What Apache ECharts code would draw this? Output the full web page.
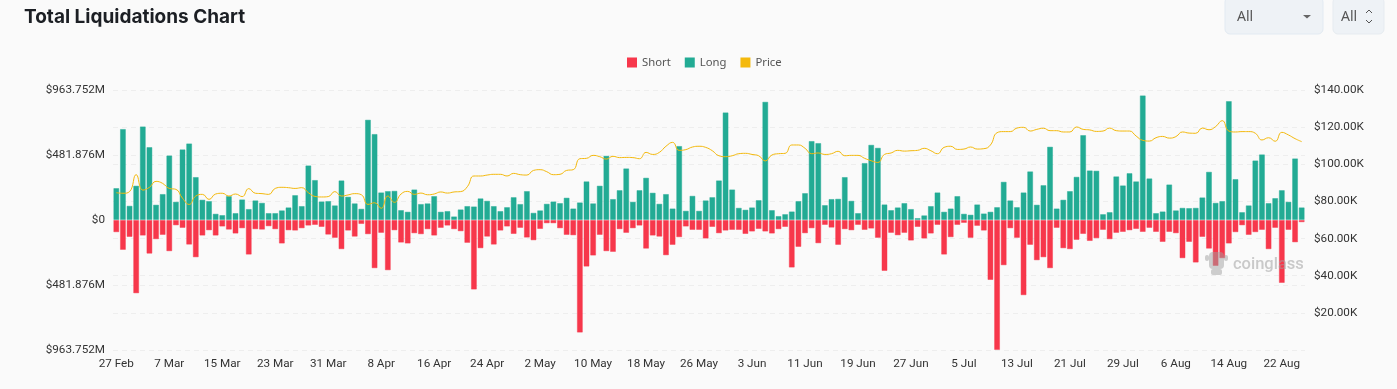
<!DOCTYPE html>
<html><head><meta charset="utf-8">
<style>html,body{margin:0;padding:0;background:#fafafa}#c{width:1397px;height:389px}</style>
<script src="https://cdn.jsdelivr.net/npm/echarts@6/dist/echarts.min.js"></script>
</head><body><div id="c"></div>
<script>
const categories = ["27 Feb","28 Feb","1 Mar","2 Mar","3 Mar","4 Mar","5 Mar","6 Mar","7 Mar","8 Mar","9 Mar","10 Mar","11 Mar","12 Mar","13 Mar","14 Mar","15 Mar","16 Mar","17 Mar","18 Mar","19 Mar","20 Mar","21 Mar","22 Mar","23 Mar","24 Mar","25 Mar","26 Mar","27 Mar","28 Mar","29 Mar","30 Mar","31 Mar","1 Apr","2 Apr","3 Apr","4 Apr","5 Apr","6 Apr","7 Apr","8 Apr","9 Apr","10 Apr","11 Apr","12 Apr","13 Apr","14 Apr","15 Apr","16 Apr","17 Apr","18 Apr","19 Apr","20 Apr","21 Apr","22 Apr","23 Apr","24 Apr","25 Apr","26 Apr","27 Apr","28 Apr","29 Apr","30 Apr","1 May","2 May","3 May","4 May","5 May","6 May","7 May","8 May","9 May","10 May","11 May","12 May","13 May","14 May","15 May","16 May","17 May","18 May","19 May","20 May","21 May","22 May","23 May","24 May","25 May","26 May","27 May","28 May","29 May","30 May","31 May","1 Jun","2 Jun","3 Jun","4 Jun","5 Jun","6 Jun","7 Jun","8 Jun","9 Jun","10 Jun","11 Jun","12 Jun","13 Jun","14 Jun","15 Jun","16 Jun","17 Jun","18 Jun","19 Jun","20 Jun","21 Jun","22 Jun","23 Jun","24 Jun","25 Jun","26 Jun","27 Jun","28 Jun","29 Jun","30 Jun","1 Jul","2 Jul","3 Jul","4 Jul","5 Jul","6 Jul","7 Jul","8 Jul","9 Jul","10 Jul","11 Jul","12 Jul","13 Jul","14 Jul","15 Jul","16 Jul","17 Jul","18 Jul","19 Jul","20 Jul","21 Jul","22 Jul","23 Jul","24 Jul","25 Jul","26 Jul","27 Jul","28 Jul","29 Jul","30 Jul","31 Jul","1 Aug","2 Aug","3 Aug","4 Aug","5 Aug","6 Aug","7 Aug","8 Aug","9 Aug","10 Aug","11 Aug","12 Aug","13 Aug","14 Aug","15 Aug","16 Aug","17 Aug","18 Aug","19 Aug","20 Aug","21 Aug","22 Aug","23 Aug","24 Aug","25 Aug"];

// Long liquidations, $M
const longValues = [237,675,106,255,694,541,114,193,479,136,524,568,319,151,141,47,37,178,52,153,82,146,128,52,52,72,94,185,104,405,297,138,141,109,294,173,
124,84,744,638,205,215,217,74,62,227,119,124,178,62,67,27,79,104,101,161,143,104,67,96,170,119,215,54,72,121,138,126,166,86,131,287,124,255,477,156,222,383,136,222,314,203,121,193,86,549,69,
180,69,146,170,294,798,227,91,77,94,148,877,74,30,44,64,141,200,586,571,111,156,158,319,143,52,423,558,536,116,74,94,126,82,15,35,104,205,62,86,178,47,40,116,49,62,96,284,146,96,205,361,
114,259,544,86,151,215,321,630,368,366,44,59,324,257,348,287,924,309,52,64,264,72,91,89,91,168,358,128,141,882,304,59,109,442,487,126,163,222,136,457,94];

// Short liquidations, $M (drawn below zero)
const shortValues = [-91,-222,-126,-544,-116,-250,-143,-111,-232,-40,-59,-183,-277,-116,-77,-116,-49,-72,-101,-62,-257,-69,-72,-47,-69,-175,-77,-79,-62,-42,-37,-52,-109,-133,-217,-79,
-124,-30,-106,-358,-96,-373,-77,-168,-175,-99,-106,-69,-116,-59,-42,-69,-84,-170,-516,-210,-124,-183,-79,-49,-104,-59,-131,-151,-67,-25,-25,-62,-111,-114,-835,-346,-264,-111,-232,-237,-69,-96,-62,-42,-213,-116,-124,-262,-185,-128,-49,
-74,-74,-138,-52,-99,-79,-74,-74,-104,-86,-67,-86,-101,-69,-52,-353,-200,-99,-62,-173,-37,-57,-185,-69,-77,-37,-74,-64,-133,-378,-96,-114,-96,-153,-52,-138,-101,-37,-257,-128,-37,-22,-133,-44,-79,-445,-963.752,-336,-62,-133,-558,-185,
-299,-277,-358,-59,-210,-217,-148,-104,-156,-136,-74,-143,-96,-89,-77,-67,-89,-59,-89,-163,-89,-99,-284,-163,-316,-126,-213,-341,-284,-175,-91,-40,-111,-91,-74,-217,-59,-467,-74,-166,-17];

// BTC price, $K
const priceValues = [84.7,84.4,85.3,94.4,86.1,87.6,90.8,89.7,87.0,86.5,81.7,78.4,82.9,83.8,81.1,84.0,84.4,82.9,84.0,82.6,86.9,84.4,84.2,83.8,87.0,87.6,87.4,87.0,87.4,84.7,82.7,82.4,82.6,85.3,82.9,83.5,
84.2,83.6,78.4,79.3,76.3,82.9,79.5,84.0,85.4,83.8,84.5,83.6,84.0,85.1,84.5,85.1,85.3,87.9,93.7,93.7,94.2,94.6,94.6,93.7,95.1,94.4,94.2,96.7,97.1,96.0,94.4,94.6,96.7,97.1,103.0,103.2,104.8,104.1,102.8,104.3,103.6,103.7,103.6,103.0,106.4,105.3,106.4,109.7,111.8,107.5,107.9,
109.3,109.7,109.1,107.3,104.6,104.1,104.6,105.7,105.9,105.3,104.6,101.8,105.0,105.7,105.9,110.4,110.4,108.6,105.7,106.1,105.3,105.7,107.0,104.6,104.8,104.8,103.2,101.9,101.0,105.3,106.1,107.5,107.1,107.3,107.5,108.6,107.3,105.7,109.1,109.7,108.0,108.2,109.3,108.2,108.4,110.4,117.0,117.6,117.6,119.5,119.9,117.9,
118.8,119.4,118.1,118.1,117.4,117.4,120.1,118.8,118.5,117.7,117.9,119.5,118.1,117.9,117.9,115.2,112.9,112.5,114.3,115.0,114.1,114.9,117.4,116.8,116.7,119.5,118.6,120.3,123.5,117.9,117.4,117.6,117.6,116.7,113.1,114.3,112.4,117.2,115.8,113.8,112.2];

const seriesNames = ["Short","Long","Price"];
const titleText = "Total Liquidations Chart";
const leftMax = 963.752, leftStep = 481.876;
const rightMax = 140, rightStep = 20;

const RED = "#F7374B", TEAL = "#22AB94", GOLD = "#F4B90C";
const axisText = {color:"#333", fontFamily:"Roboto, sans-serif", fontSize:11.7};
const gridDash = {show:true, lineStyle:{color:"#eeeeee", type:[5,4], width:1}};

const chart = echarts.init(document.getElementById("c"), null, {renderer:"canvas"});
chart.setOption({
  animation:false,
  backgroundColor:"#fafafa",
  title:{text:titleText, left:19, top:3, textStyle:{fontFamily:"Inter, sans-serif", fontWeight:700, fontSize:19, color:"#1c1f24"}},
  legend:{data:seriesNames, top:52, left:622, icon:"rect", itemWidth:10, itemHeight:10, itemGap:14, itemStyle:{borderWidth:0},
    textStyle:{fontFamily:"'Noto Sans', sans-serif", fontSize:11.3, color:"#555"}},
  grid:{left:113, right:92, top:90, bottom:39},
  xAxis:{type:"category", data:categories, axisLine:{show:false}, axisTick:{show:false},
    axisLabel:Object.assign({interval:7, margin:8}, axisText)},
  yAxis:[
    {type:"value", min:-leftMax, max:leftMax, interval:leftStep, axisLine:{show:false}, axisTick:{show:false}, splitLine:gridDash,
     axisLabel:Object.assign({margin:8, formatter:v=>v===0?"$0":"$"+Math.abs(v).toFixed(3)+"M"}, axisText)},
    {type:"value", position:"right", min:0, max:rightMax, interval:rightStep, axisLine:{show:false}, axisTick:{show:false}, splitLine:gridDash,
     axisLabel:Object.assign({margin:9, formatter:v=>v===0?"":"$"+v.toFixed(2)+"K"}, axisText)}
  ],
  series:[
    {name:"Short", type:"bar", stack:"liq", data:shortValues, barWidth:6,
     itemStyle:{color:RED, borderColor:"rgba(247,55,75,0.45)", borderWidth:1}},
    {name:"Long", type:"bar", stack:"liq", data:longValues, barWidth:6,
     itemStyle:{color:TEAL, borderColor:"rgba(34,171,148,0.45)", borderWidth:1}},
    {name:"Price", type:"line", yAxisIndex:1, data:priceValues, smooth:0.5, showSymbol:false,
     lineStyle:{color:GOLD, width:1}, itemStyle:{color:GOLD}, z:5}
  ],
  graphic:[
    {type:"rect", shape:{x:1225,y:-3,width:98,height:37,r:5}, style:{fill:"#eef2f6", stroke:"#e2eaf2", lineWidth:1}},
    {type:"text", style:{x:1237,y:10,text:"All",fill:"#555",font:"14px 'Noto Sans', sans-serif"}},
    {type:"polygon", shape:{points:[[1303,15],[1311,15],[1307,18.5]]}, style:{fill:"#666"}},
    {type:"rect", shape:{x:1333,y:-3,width:51,height:37,r:5}, style:{fill:"#eef2f6", stroke:"#e6ebf0", lineWidth:1}},
    {type:"text", style:{x:1341,y:10,text:"All",fill:"#555",font:"14px 'Noto Sans', sans-serif"}},
    {type:"polyline", shape:{points:[[1366,13],[1369,10],[1372,13]]}, style:{stroke:"#555",fill:null,lineWidth:1}},
    {type:"polyline", shape:{points:[[1366,20],[1369,23],[1372,20]]}, style:{stroke:"#555",fill:null,lineWidth:1}},
    {type:"group", z:100, children:[
      {type:"rect", z:100, shape:{x:1209,y:252,width:15,height:17,r:4}, style:{fill:"rgba(160,160,160,0.5)"}},
      {type:"rect", z:100, shape:{x:1205,y:255,width:4,height:6,r:2}, style:{fill:"rgba(160,160,160,0.5)"}},
      {type:"rect", z:100, shape:{x:1224,y:255,width:4,height:6,r:2}, style:{fill:"rgba(160,160,160,0.5)"}},
      {type:"rect", z:100, shape:{x:1211,y:269,width:11,height:6,r:2}, style:{fill:"rgba(160,160,160,0.5)"}},
      {type:"text", z:100, style:{x:1233,y:256,text:"coinglass",fill:"rgba(160,160,160,0.55)",font:"500 16.5px Roboto, sans-serif"}}
    ]}
  ]
});
</script></body></html>
